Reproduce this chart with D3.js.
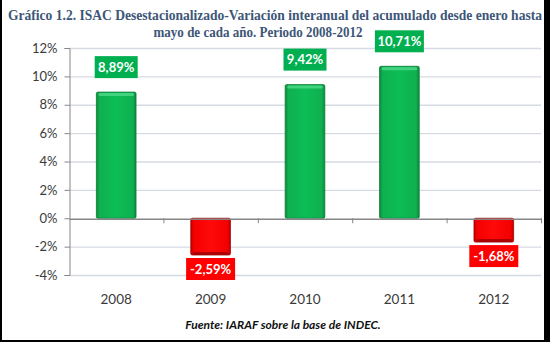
<!DOCTYPE html>
<html>
<head>
<meta charset="utf-8">
<script src="https://cdn.jsdelivr.net/npm/d3@7"></script>
<style>
  body { margin: 0; background: #000; }
  svg { display: block; }
</style>
</head>
<body>
<div id="plotdiv"></div>
<script>
// Years and year-on-year change (%) of the seasonally adjusted ISAC, Jan-May
var years = ["2008", "2009", "2010", "2011", "2012"];
var values = [8.89, -2.59, 9.42, 10.71, -1.68];
var labels = ["8,89%", "-2,59%", "9,42%", "10,71%", "-1,68%"];
var yTicks = [-4, -2, 0, 2, 4, 6, 8, 10, 12];

var titleLines = [
  "Gráfico 1.2. ISAC Desestacionalizado-Variación interanual del acumulado desde enero hasta",
  "mayo de cada año. Periodo 2008-2012"
];
var sourceText = "Fuente: IARAF sobre la base de INDEC.";

var outerWidth = 550;
var outerHeight = 342;
var margin = { left: 69, top: 48, right: 9, bottom: 67 };
var innerWidth = outerWidth - margin.left - margin.right;
var innerHeight = 275 - margin.top;

var vis = d3.select("#plotdiv").append("svg")
  .attr("width", outerWidth)
  .attr("height", outerHeight);

// black frame: white panel sits inside it
vis.append("rect").attr("width", outerWidth).attr("height", outerHeight).attr("fill", "#000");
vis.append("rect").attr("x", 2).attr("y", 0).attr("width", 542).attr("height", 340).attr("fill", "#fff");

// gradients for the bevelled bars
var defs = vis.append("defs");
function barGradient(id, stops) {
  var gr = defs.append("linearGradient").attr("id", id)
    .attr("x1", 0).attr("x2", 1).attr("y1", 0).attr("y2", 0);
  stops.forEach(function(s) {
    gr.append("stop").attr("offset", s[0]).attr("stop-color", s[1]);
  });
}
barGradient("greenBar", [[0, "#0a8a3c"], [0.08, "#0fb050"], [0.5, "#0cbd55"], [0.92, "#0fb050"], [1, "#0a8a3c"]]);
barGradient("redBar", [[0, "#c00000"], [0.08, "#f50000"], [0.5, "#ff0a0a"], [0.92, "#f50000"], [1, "#c00000"]]);

var g = vis.append("g")
  .attr("transform", "translate(" + margin.left + "," + margin.top + ")");

var xScale = d3.scaleBand()
  .range([0, innerWidth])
  .domain(years)
  .paddingInner(0.58)
  .paddingOuter(0.29);
var yScale = d3.scaleLinear()
  .domain([-4, 12])
  .range([innerHeight, 0]);

// horizontal gridlines
g.selectAll(".grid").data(yTicks.filter(function(d) { return d !== 0; }))
  .enter().append("line")
  .attr("x1", 0).attr("x2", innerWidth)
  .attr("y1", function(d) { return yScale(d) + 0.5; })
  .attr("y2", function(d) { return yScale(d) + 0.5; })
  .attr("stroke", "#d6dbe3")
  .attr("stroke-width", 1.3);

// y axis
var axisY = d3.axisLeft(yScale)
  .tickValues(yTicks)
  .tickSize(5)
  .tickPadding(7)
  .tickFormat(function(d) { return d + "%"; });
var gAxisY = g.append("g").attr("transform", "translate(0.5,0)").call(axisY);
gAxisY.select(".domain").attr("stroke", "#868686");
gAxisY.selectAll(".tick line").attr("stroke", "#868686");
gAxisY.selectAll("text")
  .attr("fill", "#3a3a3a")
  .style("font-family", "Lato, 'Open Sans', sans-serif")
  .style("font-size", "13px");

// bars
var bars = g.selectAll(".bar").data(values).enter().append("g");
bars.append("rect")
  .attr("x", function(d, i) { return xScale(years[i]); })
  .attr("y", function(d) { return yScale(Math.max(d, 0)); })
  .attr("width", xScale.bandwidth())
  .attr("height", function(d) { return Math.abs(yScale(d) - yScale(0)); })
  .attr("rx", 1.5)
  .attr("fill", function(d) { return d >= 0 ? "url(#greenBar)" : "url(#redBar)"; })
  .attr("stroke", function(d) { return d >= 0 ? "#0b7a37" : "#a00000"; })
  .attr("stroke-width", 0.8);
// light top rim on rising bars, dark bottom rim on falling bars
bars.append("rect")
  .attr("x", function(d, i) { return xScale(years[i]) + 2; })
  .attr("y", function(d) { return d >= 0 ? yScale(d) + 1 : yScale(d) - 3; })
  .attr("width", xScale.bandwidth() - 4)
  .attr("height", 3)
  .attr("rx", 1.5)
  .attr("fill", function(d) { return d >= 0 ? "#4fd98a" : "#9a0000"; })
  .attr("opacity", 0.8);

// x axis on the zero line
var axisX = d3.axisBottom(xScale).tickSize(0).tickFormat("");
var gAxisX = g.append("g")
  .attr("transform", "translate(0," + (yScale(0) + 0.5) + ")")
  .call(axisX);
gAxisX.select(".domain").attr("stroke", "#868686").attr("stroke-width", 1.5);
var step = xScale.step();
g.selectAll(".xtick").data(d3.range(1, years.length + 1))
  .enter().append("line")
  .attr("x1", function(d) { return d * step + 0.5; })
  .attr("x2", function(d) { return d * step + 0.5; })
  .attr("y1", yScale(0))
  .attr("y2", yScale(0) + 5)
  .attr("stroke", "#868686");

// year labels below the plot
g.selectAll(".year").data(years).enter().append("text")
  .attr("x", function(d) { return xScale(d) + xScale.bandwidth() / 2; })
  .attr("y", innerHeight + 29)
  .attr("text-anchor", "middle")
  .attr("fill", "#3a3a3a")
  .style("font-family", "Lato, 'Open Sans', sans-serif")
  .style("font-size", "13.5px")
  .text(function(d) { return d; });

// value labels in coloured boxes
var valLabels = g.selectAll(".val").data(values).enter().append("g")
  .attr("transform", function(d, i) {
    var cx = xScale(years[i]) + xScale.bandwidth() / 2;
    var cy = d >= 0 ? yScale(d) - 25 : yScale(d) + 14;
    return "translate(" + cx + "," + cy + ")";
  });
valLabels.append("rect")
  .attr("x", function(d, i) { return -(labels[i].length > 5 ? 49 : 43) / 2; })
  .attr("y", -11)
  .attr("width", function(d, i) { return labels[i].length > 5 ? 49 : 43; })
  .attr("height", 22)
  .attr("fill", function(d) { return d >= 0 ? "#00b050" : "#ff0000"; });
valLabels.append("text")
  .attr("text-anchor", "middle")
  .attr("dy", "0.36em")
  .attr("fill", "#fff")
  .style("font-family", "Lato, 'Open Sans', sans-serif")
  .style("font-weight", "bold")
  .style("font-size", "13px")
  .text(function(d, i) { return labels[i]; });

// title, squeezed to the width of the panel
var titleX = [275, 258];
var titleW = [534, 209];
vis.selectAll(".title").data(titleLines).enter().append("text")
  .attr("x", function(d, i) { return titleX[i]; })
  .attr("y", function(d, i) { return 20 + i * 17; })
  .attr("text-anchor", "middle")
  .attr("fill", "#3d5678")
  .style("font-family", "'Liberation Serif', serif")
  .style("font-weight", "bold")
  .style("font-size", "14px")
  .text(function(d) { return d; })
  .each(function(d, i) {
    if (this.getComputedTextLength() > titleW[i]) {
      d3.select(this).attr("textLength", titleW[i]).attr("lengthAdjust", "spacingAndGlyphs");
    }
  });

// source note
vis.append("text")
  .attr("x", 283)
  .attr("y", 329)
  .attr("text-anchor", "middle")
  .attr("fill", "#111")
  .style("font-family", "Lato, 'Open Sans', sans-serif")
  .style("font-weight", "bold")
  .style("font-style", "italic")
  .style("font-size", "12px")
  .text(sourceText);
</script>
</body>
</html>
